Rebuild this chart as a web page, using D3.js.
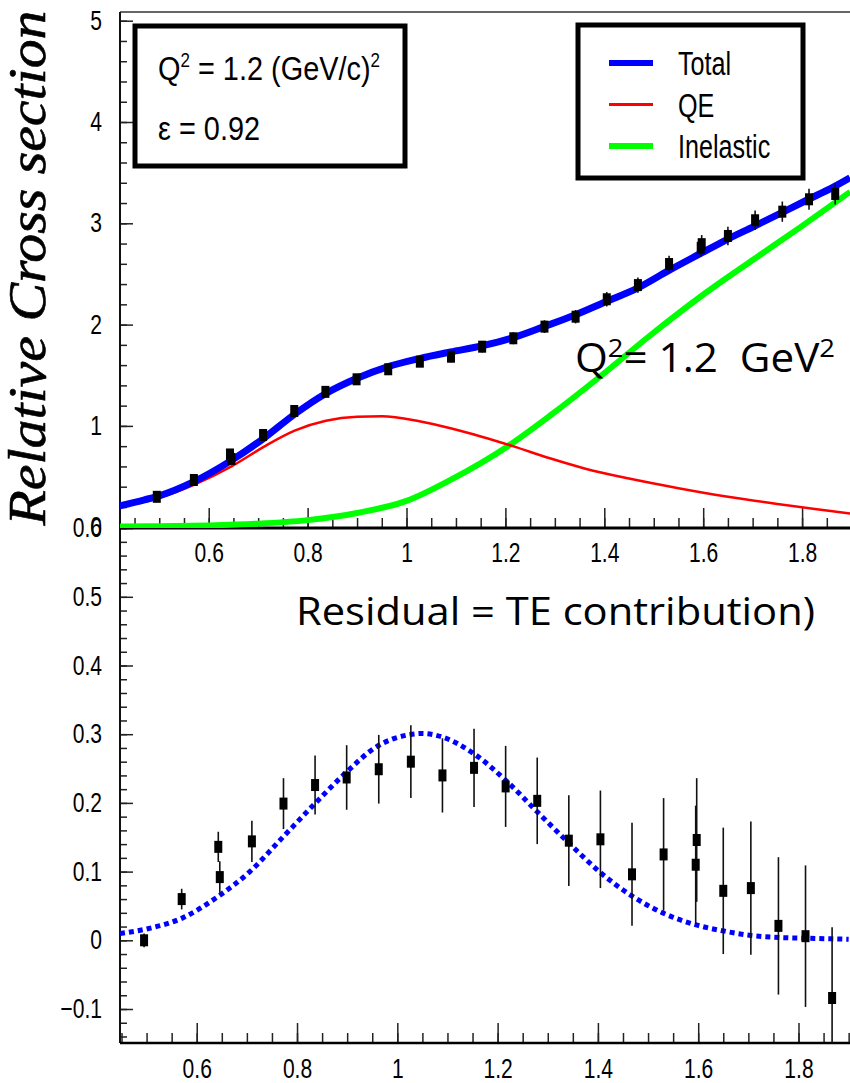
<!DOCTYPE html>
<html>
<head>
<meta charset="utf-8">
<script src="https://cdn.jsdelivr.net/npm/d3@7"></script>
<style>
  body { margin: 0; background: #fff; }
  svg { display: block; }
  .tick text { font-family: "Liberation Sans", Arial, sans-serif; font-size: 27px; fill: #000; }
  .tick line { stroke: #222; stroke-width: 1.5; }
</style>
</head>
<body>
<div id="chart"></div>
<script>
// ─── Data ────────────────────────────────────────────────────────────────

// measured points, shared by both panels (two points sit at ~0.645 and ~1.596)
const pointX       = [0.495, 0.570, 0.643, 0.646, 0.710, 0.773, 0.836, 0.899, 0.963, 1.027, 1.090, 1.153, 1.216,
                      1.279, 1.342, 1.405, 1.468, 1.531, 1.597, 1.595, 1.650, 1.705, 1.760, 1.814, 1.867];
const crossSection = [0.300, 0.466, 0.718, 0.674, 0.910, 1.147, 1.336, 1.460, 1.559, 1.634, 1.683, 1.782, 1.865,
                      1.980, 2.078, 2.250, 2.390, 2.598, 2.794, 2.758, 2.875, 3.030, 3.115, 3.237, 3.289];
const residual     = [0.000, 0.060, 0.136, 0.092, 0.144, 0.199, 0.226, 0.237, 0.249, 0.260, 0.240, 0.251, 0.224,
                      0.203, 0.145, 0.147, 0.096, 0.125, 0.146, 0.110, 0.072, 0.076, 0.021, 0.006, -0.084];
const pointErr     = [0.010, 0.015, 0.022, 0.023, 0.030, 0.037, 0.043, 0.047, 0.050, 0.053, 0.054, 0.057, 0.059,
                      0.063, 0.066, 0.071, 0.075, 0.082, 0.090, 0.086, 0.092, 0.097, 0.100, 0.103, 0.103];

// Total fit
const totalX = [0.42, 0.47, 0.50, 0.57, 0.646, 0.712, 0.775, 0.837, 0.90, 0.963, 1.026, 1.089, 1.152, 1.215,
                1.278, 1.341, 1.403, 1.467, 1.529, 1.594, 1.648, 1.703, 1.757, 1.81, 1.864, 1.897];
const totalY = [0.21, 0.27, 0.31, 0.45, 0.66, 0.88, 1.12, 1.32, 1.47, 1.585, 1.665, 1.73, 1.79, 1.87,
                1.98, 2.095, 2.225, 2.36, 2.53, 2.70, 2.84, 2.97, 3.10, 3.23, 3.36, 3.45];

// QE contribution
const qeX = [0.42, 0.50, 0.571, 0.646, 0.712, 0.775, 0.837, 0.90, 0.95, 1.026, 1.089, 1.152, 1.215,
             1.29, 1.36, 1.45, 1.55, 1.65, 1.75, 1.85, 1.897];
const qeY = [0.20, 0.29, 0.42, 0.60, 0.795, 0.955, 1.05, 1.09, 1.095, 1.045, 0.976, 0.893, 0.80,
             0.68, 0.58, 0.48, 0.385, 0.30, 0.23, 0.165, 0.135];

// Inelastic contribution
const inelX = [0.42, 0.50, 0.60, 0.70, 0.80, 0.90, 1.00, 1.09, 1.205, 1.29, 1.391,
               1.492, 1.593, 1.695, 1.796, 1.897];
const inelY = [0.008, 0.010, 0.018, 0.035, 0.070, 0.14, 0.26, 0.47, 0.80, 1.10, 1.485,
               1.89, 2.27, 2.62, 2.96, 3.31];

// TE (residual) curve
const teX = [0.447, 0.497, 0.573, 0.643, 0.706, 0.769, 0.833, 0.896, 0.959, 1.022, 1.049, 1.089, 1.152,
             1.216, 1.279, 1.343, 1.406, 1.469, 1.532, 1.598, 1.651, 1.706, 1.762, 1.815, 1.90];
const teY = [0.010, 0.016, 0.033, 0.064, 0.100, 0.148, 0.197, 0.243, 0.282, 0.299, 0.301, 0.296, 0.272,
             0.233, 0.187, 0.141, 0.098, 0.064, 0.039, 0.022, 0.0135, 0.007, 0.004, 0.003, 0.0015];

// tick labels
const xTicks    = [0.6, 0.8, 1, 1.2, 1.4, 1.6, 1.8];
const yTopTicks = [0, 1, 2, 3, 4, 5];
const yBotTicks = [-0.1, 0, 0.1, 0.2, 0.3, 0.4, 0.5, 0.6];

const legendItems = ['Total', 'QE', 'Inelastic'];

// ─── Layout ──────────────────────────────────────────────────────────────

const W = 850, H = 1083;
const LEFT = 120, RIGHT = 850, TOP = 12, MID = 528, BOTTOM = 1043;
const NARROW = 0.78;   // ROOT text in the picture is squeezed horizontally
const SANS = '"Liberation Sans", Arial, sans-serif';
const CALIBRI = '"Open Sans", "Noto Sans", sans-serif';

const svg = d3.select('#chart').append('svg')
  .attr('width', W).attr('height', H)
  .style('background', '#fff');

const xTop = d3.scaleLinear().domain([0.4206, 1.8969]).range([LEFT, RIGHT]);
const yTop = d3.scaleLinear().domain([0, 5]).range([527.2, 20.7]);
const xBot = d3.scaleLinear().domain([0.447, 1.9027]).range([LEFT, RIGHT]);
const yBot = d3.scaleLinear().domain([0, 0.6]).range([940.3, 528.1]);

const defs = svg.append('defs');
defs.append('clipPath').attr('id', 'clip-top').append('rect')
  .attr('x', LEFT).attr('y', TOP).attr('width', RIGHT - LEFT).attr('height', MID - TOP);
defs.append('clipPath').attr('id', 'clip-bot').append('rect')
  .attr('x', LEFT).attr('y', MID).attr('width', RIGHT - LEFT).attr('height', BOTTOM - MID);

// ─── Axes ────────────────────────────────────────────────────────────────

function drawXAxis(scale, y, pad) {
  const [d0, d1] = scale.domain();
  const minors = d3.range(Math.ceil(d0 / 0.05) * 0.05, d1 + 1e-9, 0.05).map(v => +v.toFixed(3));
  svg.append('g').attr('transform', `translate(0,${y})`)
    .call(d3.axisBottom(scale).tickValues(minors).tickSize(-10).tickFormat(''))
    .call(a => a.select('.domain').remove());
  svg.append('g').attr('transform', `translate(0,${y})`)
    .call(d3.axisBottom(scale).tickValues(xTicks).tickSize(-20).tickPadding(pad).tickFormat(d3.format('~g')))
    .call(a => a.select('.domain').remove())
    .call(a => a.selectAll('text').attr('transform', `scale(${NARROW},1)`));
}

function drawYAxis(scale, step, majors, lo, hi) {
  const minors = d3.range(Math.ceil(lo / step) * step, hi + 1e-9, step).map(v => +v.toFixed(3));
  svg.append('g').attr('transform', `translate(${LEFT},0)`)
    .call(d3.axisLeft(scale).tickValues(minors).tickSize(-7).tickFormat(''))
    .call(a => a.select('.domain').remove());
  svg.append('g').attr('transform', `translate(${LEFT},0)`)
    .call(d3.axisLeft(scale).tickValues(majors).tickSize(-13).tickFormat(d3.format('~g')))
    .call(a => a.select('.domain').remove())
    .call(a => a.selectAll('text').attr('x', -18 / NARROW).attr('transform', `scale(${NARROW},1)`));
}

drawXAxis(xTop, MID, 15);
drawXAxis(xBot, BOTTOM, 16);
drawYAxis(yTop, 0.2, yTopTicks, 0, 5.08);
drawYAxis(yBot, 0.02, yBotTicks, -0.149, 0.6);

// frame lines
svg.append('line').attr('x1', LEFT).attr('x2', RIGHT).attr('y1', TOP).attr('y2', TOP)
  .attr('stroke', '#333').attr('stroke-width', 1.5);
svg.append('line').attr('x1', LEFT).attr('x2', LEFT).attr('y1', TOP).attr('y2', BOTTOM)
  .attr('stroke', '#111').attr('stroke-width', 2);
svg.append('line').attr('x1', LEFT).attr('x2', RIGHT).attr('y1', MID).attr('y2', MID)
  .attr('stroke', '#000').attr('stroke-width', 3);
svg.append('line').attr('x1', LEFT).attr('x2', RIGHT).attr('y1', BOTTOM).attr('y2', BOTTOM)
  .attr('stroke', '#000').attr('stroke-width', 2.5);

// y title
svg.append('text')
  .attr('transform', 'translate(45,268) rotate(-90)')
  .attr('text-anchor', 'middle')
  .attr('textLength', 515).attr('lengthAdjust', 'spacingAndGlyphs')
  .style('font-family', '"Liberation Serif", "Times New Roman", serif')
  .style('font-style', 'italic')
  .style('font-size', '52px')
  .style('stroke', '#000').style('stroke-width', 0.6)
  .text('Relative Cross section');

// ─── Top panel curves and points ─────────────────────────────────────────

const gTop = svg.append('g').attr('clip-path', 'url(#clip-top)');

function curve(xs, ys, xs_, ys_) {
  return d3.line()
    .x((d, i) => xs_(xs[i]))
    .y(d => ys_(d))
    .curve(d3.curveMonotoneX)(ys);
}

gTop.append('path').attr('d', curve(inelX, inelY, xTop, yTop))
  .attr('fill', 'none').attr('stroke', '#00ff00').attr('stroke-width', 6);
gTop.append('path').attr('d', curve(qeX, qeY, xTop, yTop))
  .attr('fill', 'none').attr('stroke', '#ff0000').attr('stroke-width', 2.5);
gTop.append('path').attr('d', curve(totalX, totalY, xTop, yTop))
  .attr('fill', 'none').attr('stroke', '#0000ff').attr('stroke-width', 7);

function drawPoints(g, xs_, ys_, values) {
  g.selectAll(null).data(values).join('line')
    .attr('x1', (d, i) => xs_(pointX[i])).attr('x2', (d, i) => xs_(pointX[i]))
    .attr('y1', (d, i) => ys_(d + pointErr[i])).attr('y2', (d, i) => ys_(d - pointErr[i]))
    .attr('stroke', '#111').attr('stroke-width', 1.6);
  g.selectAll(null).data(values).join('rect')
    .attr('x', (d, i) => xs_(pointX[i]) - 4).attr('y', d => ys_(d) - 6)
    .attr('width', 8).attr('height', 12)
    .attr('fill', '#000');
}
drawPoints(gTop, xTop, yTop, crossSection);

// ─── Bottom panel ────────────────────────────────────────────────────────

const gBot = svg.append('g').attr('clip-path', 'url(#clip-bot)');
gBot.append('path').attr('d', curve(teX, teY, xBot, yBot))
  .attr('fill', 'none').attr('stroke', '#0000ff').attr('stroke-width', 5)
  .attr('stroke-dasharray', '5,4');
drawPoints(gBot, xBot, yBot, residual);

// ─── Boxes and labels ────────────────────────────────────────────────────

// kinematics box
svg.append('rect').attr('x', 135).attr('y', 26).attr('width', 270).attr('height', 140)
  .attr('fill', '#fff').attr('stroke', '#000').attr('stroke-width', 5);
const t1 = svg.append('text').attr('transform', `translate(158,80) scale(0.85,1)`)
  .style('font-family', SANS).style('font-size', '34px');
t1.append('tspan').text('Q');
t1.append('tspan').attr('dy', -13).style('font-size', '20px').text('2');
t1.append('tspan').attr('dy', 13).text(' = 1.2 (GeV/c)');
t1.append('tspan').attr('dy', -13).style('font-size', '20px').text('2');
svg.append('text').attr('transform', `translate(158,140) scale(0.85,1)`)
  .style('font-family', SANS).style('font-size', '34px')
  .text('ε = 0.92');

// legend
svg.append('rect').attr('x', 578).attr('y', 25).attr('width', 225).attr('height', 153)
  .attr('fill', '#fff').attr('stroke', '#000').attr('stroke-width', 5);
const legendColor = { Total: '#0000ff', QE: '#ff0000', Inelastic: '#00ff00' };
const legendWidth = { Total: 6, QE: 3, Inelastic: 6 };
legendItems.forEach((k, i) => {
  const y = 63 + i * 41.5;
  svg.append('line').attr('x1', 609).attr('x2', 653).attr('y1', y).attr('y2', y)
    .attr('stroke', legendColor[k]).attr('stroke-width', legendWidth[k]);
  svg.append('text').attr('transform', `translate(678,${y + 12}) scale(0.74,1)`)
    .style('font-family', SANS).style('font-size', '34px')
    .text(k);
});

// annotations
const q = svg.append('text').attr('x', 575).attr('y', 372)
  .attr('textLength', 260).attr('lengthAdjust', 'spacingAndGlyphs')
  .style('white-space', 'pre')
  .style('font-family', CALIBRI).style('font-size', '40px');
q.append('tspan').text('Q');
q.append('tspan').attr('dy', -15).style('font-size', '26px').text('2');
q.append('tspan').attr('dy', 15).text('= 1.2  GeV');
q.append('tspan').attr('dy', -15).style('font-size', '26px').text('2');

svg.append('text').attr('x', 296).attr('y', 625)
  .attr('textLength', 519).attr('lengthAdjust', 'spacingAndGlyphs')
  .style('font-family', CALIBRI).style('font-size', '38px')
  .text('Residual = TE contribution)');
</script>
</body>
</html>
